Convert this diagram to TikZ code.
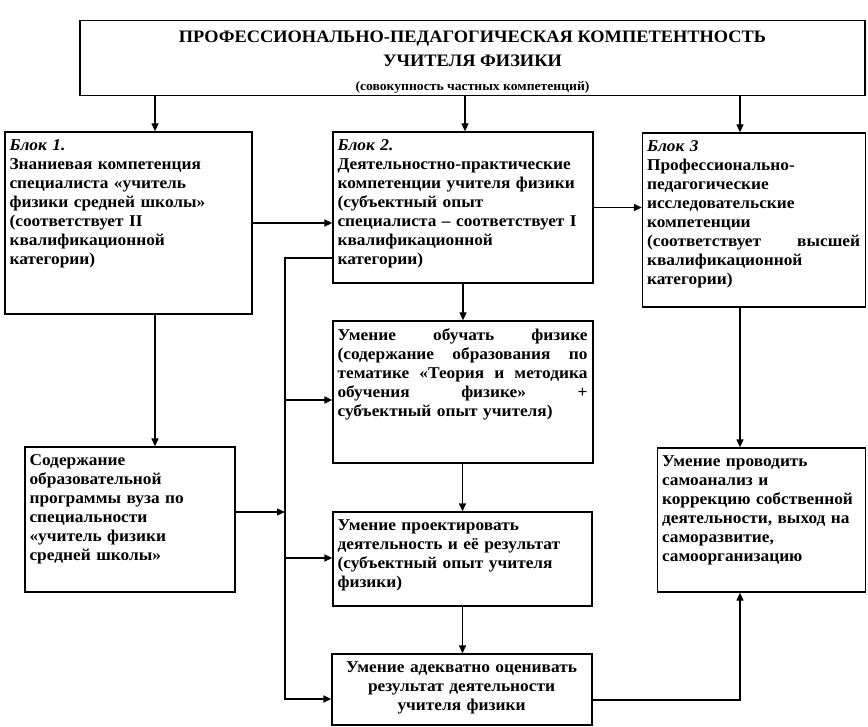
\documentclass[tikz,border=0pt]{standalone}
\usepackage{fontspec}
\setmainfont[FakeStretch=1.05]{Liberation Serif}
\usetikzlibrary{arrows.meta}

\tikzset{
  frame/.style={draw, rectangle, line width=1.3pt, inner sep=0pt},
  txt/.style={anchor=north west, inner xsep=5pt, inner ysep=8pt, align=left,
    font=\bfseries\fontsize{16.5}{19}\selectfont},
  arr/.style={line width=1.3pt, -{Triangle[length=8pt,width=7pt]}},
  link/.style={line width=1.3pt}
}

\begin{document}
\begin{tikzpicture}[x=1pt,y=-1pt]
\useasboundingbox (0,0) rectangle (868,727);

\begin{scope}

    % frames
    \node (top) at (472.5,58) [frame, minimum width=785pt, minimum height=75pt] {};
    \node (blk1) at (128.5,223) [frame, minimum width=247pt, minimum height=182pt] {};
    \node (blk2) at (463,207.5) [frame, minimum width=260pt, minimum height=151pt] {};
    \node (blk3) at (754,220) [frame, minimum width=223pt, minimum height=174pt] {};
    \node (sod) at (130,519.5) [frame, minimum width=210pt, minimum height=145pt] {};
    \node (obuch) at (463,392) [frame, minimum width=260pt, minimum height=142pt] {};
    \node (proekt) at (462.5,559) [frame, minimum width=259pt, minimum height=94pt] {};
    \node (ocen) at (462,689.5) [frame, minimum width=260pt, minimum height=71pt] {};
    \node (samo) at (761.5,520) [frame, minimum width=208pt, minimum height=144pt] {};

    % texts
    \node at ([yshift=-4pt]top.center) [align=center, font=\bfseries\fontsize{17.5}{24}\selectfont]
        {ПРОФЕССИОНАЛЬНО-ПЕДАГОГИЧЕСКАЯ КОМПЕТЕНТНОСТЬ\\
         УЧИТЕЛЯ ФИЗИКИ\\
         {\fontsize{13}{20}\selectfont (совокупность частных компетенций)}};
    \node at (blk1.north west) [txt, text width=237pt]
        {\textit{Блок 1.}\\
         Знаниевая компетенция\\
         специалиста «учитель\\
         физики средней школы»\\
         (соответствует II\\
         квалификационной\\
         категории)};
    \node at (blk2.north west) [txt, text width=250pt]
        {\textit{Блок 2.}\\
         Деятельностно-практические\\
         компетенции учителя физики\\
         (субъектный опыт\\
         специалиста – соответствует I\\
         квалификационной\\
         категории)};
    \node at (blk3.north west) [txt, text width=213pt]
        {\textit{Блок 3}\\
         Профессионально-\\
         педагогические\\
         исследовательские\\
         компетенции\\
         (соответствует\hfill высшей\\
         квалификационной\\
         категории)};
    \node at (sod.north west) [txt, text width=200pt]
        {Содержание\\
         образовательной\\
         программы вуза по\\
         специальности\\
         «учитель физики\\
         средней школы»};
    \node at (obuch.north west) [txt, text width=250pt]
        {Умение\hfill обучать\hfill физике\\
         (содержание\hfill образования\hfill по\\
         тематике\hfill «Теория\hfill и\hfill методика\\
         обучения\hfill физике»\hfill +\\
         субъектный опыт учителя)};
    \node at (proekt.north west) [txt, text width=249pt]
        {Умение проектировать\\
         деятельность и её результат\\
         (субъектный опыт учителя\\
         физики)};
    \node at (ocen.north west) [txt, text width=250pt, align=center]
        {Умение адекватно оценивать\\
         результат деятельности\\
         учителя физики};
    \node at (samo.north west) [txt, text width=198pt]
        {Умение проводить\\
         самоанализ и\\
         коррекцию собственной\\
         деятельности, выход на\\
         саморазвитие,\\
         самоорганизацию};

    % connectors
    \coordinate (c1) at (155,0);
    \coordinate (c2) at (465,0);
    \coordinate (c3) at (740,0);
    \coordinate (bus) at (285,258);
    \coordinate (busend) at (285,699);
    \coordinate (l0) at (285,512);
    \coordinate (l1) at (285,400);
    \coordinate (l2) at (285,558);
    \coordinate (r0) at (740,700);

    \draw[arr] (c1 |- top.south) -- (c1 |- blk1.north);
    \draw[arr] (c2 |- top.south) -- (c2 |- blk2.north);
    \draw[arr] (c3 |- top.south) -- (c3 |- blk3.north);
    \draw[arr] (blk1.east) -- (blk1.east -| blk2.west);
    \draw[arr] (blk2.east) -- (blk2.east -| blk3.west);
    \draw[arr] (c1 |- blk1.south) -- (c1 |- sod.north);
    \draw[arr] (c3 |- blk3.south) -- (c3 |- samo.north);
    \draw[arr] (blk2.south) -- (obuch.north -| blk2.south);
    \draw[arr] (obuch.south -| proekt.north) -- (proekt.north);
    \draw[arr] (proekt.south) -- (ocen.north -| proekt.south);

    \draw[arr] (bus -| blk2.west) -- (bus) -- (busend) -- (busend -| ocen.west);
    \draw[arr] (l0 -| sod.east) -- (l0);
    \draw[arr] (l1) -- (l1 -| obuch.west);
    \draw[arr] (l2) -- (l2 -| proekt.west);
    \draw[arr] (r0 -| ocen.east) -- (r0) -- (r0 |- samo.south);

\end{scope}

\end{tikzpicture}
\end{document}
